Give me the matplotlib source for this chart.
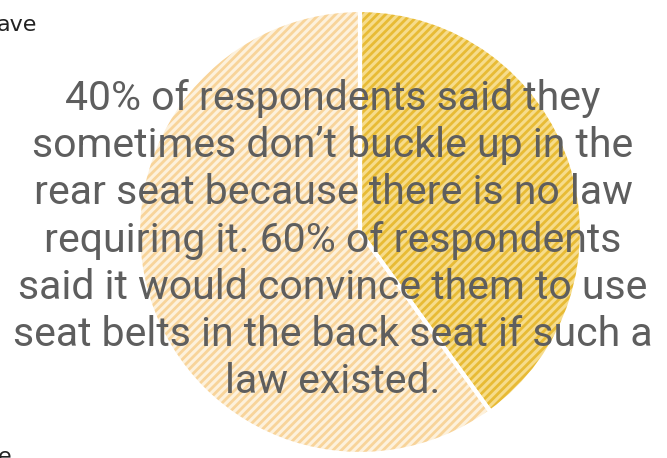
import matplotlib.pyplot as plt

shares = [40, 60]
labels = ["No law", "Other"]
face_colors = ["#f6dc8c", "#fdf1dc"]
stripe_colors = ["#e8bb35", "#f8d49a"]

message = ("40% of respondents said they\n"
           "sometimes don\u2019t buckle up in the\n"
           "rear seat because there is no law\n"
           "requiring it. 60% of respondents\n"
           "said it would convince them to use\n"
           "seat belts in the back seat if such a\n"
           "law existed.")

W, H = 667, 458
fig = plt.figure(figsize=(W / 100, H / 100), dpi=100)
ax = fig.add_axes([0, 0, 1, 1])

plt.rcParams["hatch.linewidth"] = 2.0

wedges, _ = ax.pie(shares, colors=face_colors, startangle=90, counterclock=False,
                   center=(360, 226), radius=222, frame=True,
                   wedgeprops=dict(linewidth=0))
for w, c in zip(wedges, stripe_colors):
    w.set_hatch("////")
    w.set_edgecolor(c)
    w.set_linewidth(0)

# white separator between slices
ax.pie(shares, colors=["none", "none"], startangle=90, counterclock=False,
       center=(360, 226), radius=222, frame=True,
       wedgeprops=dict(linewidth=3, edgecolor="white", fill=False))
ax.set_xlim(0, W)
ax.set_ylim(0, H)
ax.set_aspect("equal")
ax.axis("off")

ax.text(333, 218, message, ha="center", va="center", fontsize=29.5,
        color="#5e5e5e", linespacing=1.26, family="Roboto")
ax.text(-3, 433, "ave", ha="left", va="center", fontsize=16, color="#222222")
ax.text(-2, 11, "e", ha="left", va="top", fontsize=16, color="#222222")

fig.savefig("out.png", dpi=100)
